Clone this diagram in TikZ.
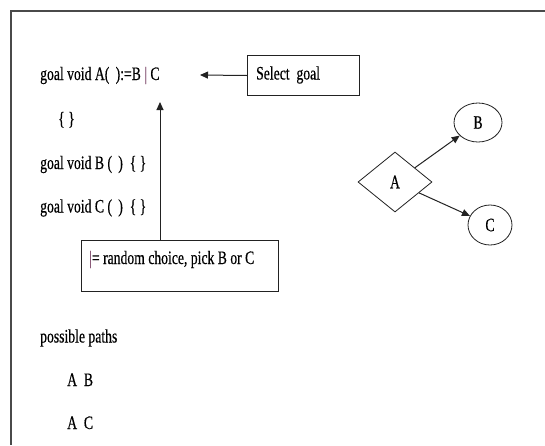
\documentclass[tikz,border=0pt]{standalone}
\usepackage{fontspec}
\setmainfont{Liberation Serif}[FakeStretch=0.72,FakeBold=0.4]
\usetikzlibrary{shapes.geometric,arrows.meta}
\definecolor{framec}{HTML}{4A4A4A}
\definecolor{linec}{HTML}{222222}
\definecolor{barc}{HTML}{8A5A78}
\tikzset{
  txt/.style={inner sep=0pt, anchor=base west, font=\fontsize{19}{22}\selectfont, text=black},
  boxc/.style={draw=linec, line width=1pt, inner sep=0pt},
  arr/.style={draw=linec, line width=1pt, -{Triangle[length=8pt,width=7pt]}},
  shp/.style={draw=linec, line width=0.8pt, inner sep=0pt, font=\fontsize{19}{22}\selectfont}
}
\newcommand{\vbar}{\textcolor{barc}{|}}
\begin{document}
\begin{tikzpicture}[x=1pt,y=-1pt]
\useasboundingbox (0,0) rectangle (545,445);
\fill[white] (0,0) rectangle (545,445);
% frame
\draw[framec, line width=1.3pt] (545,11) -- (11,11) -- (11,445);
% code lines
\node[txt] (l1) at (40,80) {goal void A(\,\,):=B \vbar{} C};
\node[txt] (l2) at (58,125) {\{ \}};
\node[txt] (l3) at (40,169) {goal void B (\,\,)\ \ \{ \}};
\node[txt] (l4) at (40,212.5) {goal void C (\,\,)\ \ \{ \}};
% select goal box
\node[boxc, anchor=north west, minimum width=112pt, minimum height=40pt] (sel) at (247,55) {};
\node[txt] (seltxt) at (256,79.5) {Select\ \ goal};
\coordinate (selTip) at (200,75);
\draw[arr] (sel.west) -- (selTip);
% random choice box
\node[boxc, anchor=north west, minimum width=197pt, minimum height=51pt] (rnd) at (81,240) {};
\node[txt] (rndtxt) at (89,264) {\vbar{}= random choice, pick B or C};
\coordinate (vTip) at (160,102);
\draw[arr] (vTip |- rnd.north) -- (vTip);
% graph
\node[shp, diamond, minimum width=74pt, minimum height=60pt] (A) at (395,182) {A};
\node[shp, ellipse, minimum width=48pt, minimum height=39pt] (B) at (478,122.5) {B};
\node[shp, ellipse, minimum width=44pt, minimum height=40pt] (C) at (490,225) {C};
\draw[arr] (A) -- (B);
\draw[arr] (A) -- (C);
% paths
\node[txt] (pp) at (40,342.5) {possible paths};
\node[txt] (ab) at (67,386) {A\ \ B};
\node[txt] (ac) at (67,429) {A\ \ C};
\end{tikzpicture}
\end{document}
